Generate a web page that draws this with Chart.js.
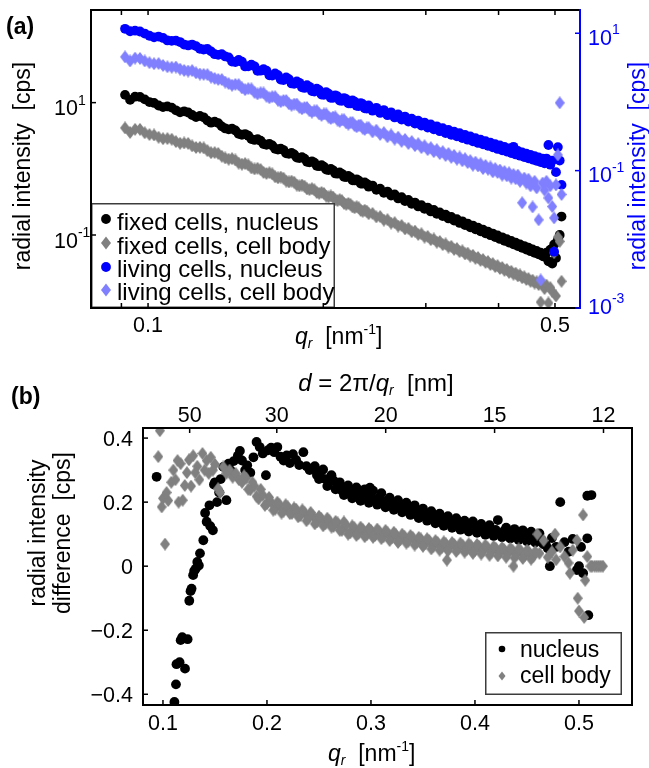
<!DOCTYPE html>
<html>
<head>
<meta charset="utf-8">
<script src="https://cdn.jsdelivr.net/npm/chart.js@4.4.1/dist/chart.umd.min.js"></script>
<style>
html,body{margin:0;padding:0;background:#fff;width:649px;height:768px;overflow:hidden;}
canvas{position:absolute;left:0;display:block;}
</style>
</head>
<body>
<canvas id="chartA" width="649" height="350" style="top:0px;width:649px;height:350px"></canvas>
<canvas id="chartB" width="649" height="418" style="top:350px;width:649px;height:418px"></canvas>
<script>
// ---------------- data: panel (a) ----------------
const qA = [0.0913,0.09315,0.0950,0.09685,0.0987,0.10055,0.1024,0.10425,0.1061,0.10795,
0.1098,0.11165,0.1135,0.11535,0.1172,0.11905,0.1209,0.12275,0.1246,0.12645,
0.1283,0.13015,0.1320,0.13385,0.1357,
0.1394,0.1431,0.1468,0.1505,0.1542,0.1579,0.1616,
0.1653,0.1690,0.1727,0.1764,0.1801,0.1838,0.1875,0.1912,0.1949,0.1986,
0.2023,0.2060,0.2097,0.2134,0.2171,0.2208,0.2245,0.2282,0.2319,0.2356,
0.2393,0.2430,0.2467,0.2504,0.2541,0.2578,0.2615,0.2652,0.2689,0.2726,
0.2763,0.2800,0.2837,0.2874,0.2911,0.2948,0.2985,0.3022,0.3059,0.3096,
0.3133,0.3170,0.3207,0.3244,0.3281,0.3318,0.3355,0.3392,0.3429,0.3466,
0.3503,0.3540,0.3577,0.3614,0.3651,0.3688,0.3725,0.3762,0.3799,0.3836,
0.3873,0.3910,0.3947,0.3984,0.4021,0.4058,0.4095,0.4132,0.4169,0.4206,
0.4243,0.4280,0.4317,0.4354,0.4391,0.4428,0.4465,0.4502,0.4539,0.4576,
0.4613,0.4650,0.4687,0.4724,0.4761,0.4798,0.4835,0.4872,0.4909,0.4946,
0.4983,0.5020,0.5057,0.5094,0.5131,
0.13755,0.14125,0.14495,0.14865,0.15235,0.15605,0.15975,0.16345,0.16715,0.17085,
0.17455,0.17825,0.18195,0.18565,0.18935,0.19305,0.19675,0.20045,0.20415,0.20785,
0.21155,0.21525,0.21895,0.22265,0.22635,0.23005,0.23375,0.23745];

const fixedNucleus = [13.1,11.0,12.3,12.2,11.2,10.2,9.9,9.05,8.55,8.75,
8.40,7.65,7.15,7.40,7.10,6.50,6.05,6.30,6.00,5.35,
4.98,5.15,4.90,4.38,4.07,
4.04,3.37,3.35,2.81,2.81,2.37,2.38,
2.01,2.02,1.71,1.74,1.475,1.50,1.275,1.30,1.11,1.135,
0.972,0.995,0.852,0.880,0.755,0.780,0.672,0.695,0.600,0.622,
0.537,0.558,0.483,0.502,0.435,0.453,0.394,0.410,0.357,0.373,
0.325,0.339,0.296,0.309,0.270,0.283,0.248,0.260,0.227,0.239,
0.209,0.219,0.193,0.203,0.178,0.187,0.165,0.173,0.152,0.161,
0.141,0.149,0.131,0.139,0.122,0.129,0.114,0.120,0.106,0.1125,
0.0994,0.1052,0.0930,0.0985,0.0872,0.0924,0.0818,0.0867,0.0768,0.0815,
0.0722,0.0767,0.0680,0.0722,0.0641,0.0680,0.0604,0.0642,0.0570,0.0606,
0.0539,0.0574,0.0510,0.0542,0.0482,0.0470,0.0540,0.0400,0.0600,0.0370,
0.0720,0.0450,0.0850,0.1000,0.1900,
3.95,3.80,3.27,3.16,2.73,2.66,2.31,2.25,1.96,1.92,
1.68,1.65,1.45,1.425,1.255,1.24,1.095,1.08,0.96,0.95,
0.845,0.84,0.75,0.745,0.667,0.665,0.596,0.594];

const fixedCellBody = [4.15,3.55,3.95,3.95,3.50,3.30,3.25,3.00,2.85,2.86,
2.80,2.58,2.43,2.46,2.42,2.22,2.10,2.11,2.07,1.88,
1.75,1.76,1.71,1.55,1.46,
1.425,1.22,1.20,1.03,1.02,0.88,0.873,
0.756,0.752,0.653,0.652,0.569,0.569,0.497,0.500,0.438,0.440,
0.387,0.389,0.340,0.342,0.300,0.301,0.265,0.267,0.235,0.2375,
0.2095,0.212,0.1875,0.190,0.168,0.1705,0.1512,0.1538,0.1366,0.139,
0.1236,0.1260,0.1122,0.1145,0.1020,0.1043,0.0930,0.0952,0.0851,0.0871,
0.0779,0.0799,0.0715,0.0734,0.0658,0.0676,0.0606,0.0624,0.0560,0.0576,
0.0517,0.0533,0.0479,0.0494,0.0444,0.0458,0.0413,0.0426,0.0385,0.0397,
0.0358,0.0370,0.0333,0.0345,0.0312,0.0323,0.0292,0.0302,0.0273,0.0283,
0.0256,0.0266,0.0241,0.0249,0.0226,0.0234,0.0213,0.0220,0.0200,0.0208,
0.0188,0.0196,0.0178,0.0097,0.0180,0.0155,0.0175,0.0094,0.0160,0.0140,
0.0540,0.0120,0.0930,0.0800,0.0200,
1.40,1.36,1.175,1.145,0.995,0.975,0.85,0.838,0.73,0.722,
0.633,0.627,0.552,0.548,0.484,0.482,0.426,0.425,0.376,0.375,
0.331,0.330,0.2915,0.291,0.258,0.258,0.229,0.2298];

const livingNucleus = [11.6,10.7,10.9,10.6,9.9,9.2,8.70,8.95,8.55,7.85,
7.75,7.80,7.45,6.85,6.65,6.85,6.50,5.95,5.80,5.90,
5.45,4.95,4.85,4.95,4.60,
3.88,4.09,3.29,3.49,2.83,3.00,2.44,
2.60,2.12,2.27,1.86,1.99,1.63,1.755,1.44,1.555,1.28,
1.385,1.145,1.25,1.045,1.14,0.957,1.05,0.878,0.964,0.809,
0.889,0.746,0.822,0.691,0.761,0.641,0.706,0.595,0.657,0.554,
0.613,0.517,0.571,0.483,0.535,0.452,0.501,0.424,0.470,0.399,
0.442,0.375,0.416,0.353,0.392,0.333,0.370,0.315,0.350,0.297,
0.331,0.282,0.314,0.267,0.297,0.253,0.282,0.241,0.268,0.229,
0.255,0.218,0.243,0.207,0.232,0.198,0.221,0.189,0.211,0.180,
0.222,0.172,0.193,0.165,0.184,0.158,0.177,0.151,0.169,0.145,
0.162,0.139,0.156,0.133,0.150,0.128,0.150,0.236,0.122,0.140,
0.0066,0.095,0.220,0.140,0.062,
4.45,3.80,3.85,3.30,3.30,2.85,2.85,2.42,2.45,2.08,
2.15,1.83,1.90,1.60,1.66,1.42,1.48,1.27,1.32,1.15,
1.20,1.04,1.10,0.95,1.01,0.87,0.925,0.80];

const livingCellBody = [4.52,3.95,4.35,4.30,3.95,3.72,3.60,3.62,3.40,3.25,
3.20,3.22,3.00,2.88,2.82,2.86,2.65,2.55,2.52,2.50,
2.30,2.20,2.13,2.12,1.95,
1.75,1.79,1.51,1.55,1.31,1.35,1.15,
1.19,1.01,1.05,0.895,0.932,0.795,0.830,0.711,0.745,0.638,
0.670,0.575,0.606,0.522,0.551,0.476,0.503,0.435,0.460,0.398,
0.422,0.366,0.388,0.337,0.358,0.311,0.331,0.288,0.307,0.267,
0.285,0.248,0.265,0.231,0.247,0.216,0.230,0.202,0.216,0.189,
0.202,0.177,0.189,0.166,0.178,0.156,0.167,0.147,0.158,0.139,
0.149,0.131,0.140,0.120,0.133,0.117,0.126,0.107,0.119,0.105,
0.113,0.096,0.107,0.094,0.102,0.086,0.097,0.084,0.093,0.078,
0.088,0.076,0.086,0.070,0.034,0.078,0.066,0.075,0.060,0.0296,
0.070,0.056,0.0192,0.00256,0.066,0.052,0.070,0.040,0.060,0.030,
0.0205,0.062,0.169,0.97,0.045,
1.85,1.80,1.60,1.56,1.38,1.36,1.21,1.19,1.06,1.05,
0.94,0.93,0.835,0.83,0.745,0.742,0.668,0.668,0.603,0.602,
0.545,0.547,0.496,0.500,0.453,0.457,0.414,0.419];

// ---------------- data: panel (b) ----------------
const qNucleusDiff = [0.0939,0.1110,0.1125,0.1130,0.1160,0.1170,0.1185,0.1212,0.1237,0.1253,
0.1265,0.1275,0.1290,0.1300,0.1315,0.1330,0.1345,0.1356,0.1388,0.1405,
0.1420,0.1447,0.1455,0.1480,0.1490,0.1500,0.1520,0.1540,0.1555,0.1580,0.1610,
0.1630,0.1650,0.1680,0.1720,0.1740,0.1760,0.1790,0.1810,0.1840,0.1870,
0.1900,0.1930,0.1960,0.1990,0.2010,0.2040,0.2070,0.2100,0.2130,0.2160,
0.2190,0.2220,0.2250,0.2280,0.2310,0.2350,0.2380,0.2410,0.2440,0.2480,
0.2520,0.2560,0.2600,0.2640,0.2680,0.2720,0.2760,0.2800,0.2840,0.2880,
0.2920,0.2960,0.2990,0.3000,0.3040,0.3080,0.3120,0.3160,0.3200,0.3240,
0.3280,0.3320,0.3360,0.3400,0.3420,0.3440,0.3480,0.3520,0.3560,0.3600,
0.3640,0.3680,0.3720,0.3760,0.3800,0.3840,0.3880,0.3920,0.3960,0.3980,
0.4000,0.4040,0.4080,0.4120,0.4160,0.4200,0.4220,0.4240,0.4280,0.4320,
0.4360,0.4400,0.4440,0.4480,0.4520,0.4560,0.4600,0.4640,0.4680,0.4700,
0.4720,0.4740,0.4780,0.4820,0.4860,0.4900,0.4940,0.4980,0.5000,0.5020,
0.5040,0.5080,0.5080,0.5090,0.5120,
0.246,0.250,0.254,0.258,0.262,0.266,0.270,0.274,0.278,0.282,
0.286,0.290,0.294,0.298,0.302,0.306,0.310,0.314,0.318,0.322,
0.326,0.330,0.334,0.338,0.346,0.350,0.354,0.358,0.362,0.366,
0.370,0.374,0.378,0.382,0.386,0.390,0.394,0.402,0.406,0.410,
0.414,0.418,0.426,0.430,0.434,0.438,0.442,0.446,0.450,0.454,
0.458,0.462,0.466];
const nucleusDiff = [0.279,-0.424,-0.369,-0.306,-0.300,-0.231,-0.222,-0.320,-0.228,-0.108,
-0.078,-0.070,-0.028,-0.015,-0.008,0.013,0.002,0.040,0.081,0.166,
0.139,0.190,0.125,0.112,0.255,0.262,0.200,0.230,0.272,0.310,0.206,
0.320,0.300,0.328,0.345,0.360,0.330,0.300,0.315,0.292,0.340,
0.388,0.372,0.352,0.284,0.362,0.370,0.356,0.372,0.342,0.330,
0.346,0.322,0.350,0.332,0.316,0.356,0.312,0.300,0.305,0.285,
0.296,0.272,0.262,0.268,0.246,0.236,0.246,0.225,0.232,0.214,
0.226,0.212,0.245,0.222,0.205,0.214,0.198,0.205,0.188,0.196,
0.182,0.190,0.172,0.180,0.190,0.163,0.170,0.155,0.162,0.147,
0.155,0.140,0.150,0.132,0.142,0.127,0.135,0.120,0.128,0.140,
0.115,0.124,0.108,0.118,0.104,0.113,0.144,0.100,0.110,0.097,
0.106,0.093,0.103,0.090,0.100,0.086,0.094,0.082,0.070,0.056,
0.000,0.088,0.060,0.200,0.075,0.045,0.085,-0.012,0.000,0.060,
-0.022,0.087,0.220,-0.153,0.222,
0.312,0.272,0.302,0.250,0.284,0.240,0.262,0.222,0.252,0.212,
0.246,0.204,0.240,0.198,0.236,0.192,0.228,0.184,0.214,0.176,
0.206,0.168,0.198,0.160,0.150,0.180,0.142,0.172,0.134,0.164,
0.126,0.156,0.120,0.150,0.114,0.142,0.108,0.104,0.132,0.098,
0.128,0.094,0.090,0.120,0.086,0.116,0.082,0.112,0.078,0.108,
0.074,0.102,0.068];

const qCellBodyDiff = [0.0955,0.0970,0.0988,0.1000,0.1020,0.1035,0.1050,0.1080,0.1100,0.1120,
0.1140,0.1150,0.1170,0.1190,0.1210,0.1230,0.1250,0.1270,0.1290,0.1310,
0.1330,0.1350,0.1380,0.1400,0.1420,0.1440,0.1460,0.1480,0.1500,0.1530,
0.1550,0.1580,0.1610,0.1640,0.1670,0.1700,0.1730,
0.176,0.180,0.184,0.188,0.192,0.196,0.200,0.204,0.208,0.212,
0.216,0.220,0.224,0.228,0.232,0.236,0.240,0.244,0.248,0.252,
0.256,0.260,0.264,0.268,0.272,0.276,0.280,0.284,0.288,0.292,
0.296,0.300,0.304,0.308,0.312,0.316,0.320,0.324,0.328,0.332,
0.336,0.340,0.344,0.348,0.352,0.356,0.360,0.364,0.368,0.372,
0.373,0.376,0.380,0.384,0.388,0.392,0.396,0.400,0.404,0.408,
0.412,0.416,0.420,0.424,0.428,0.432,0.436,0.437,0.440,0.444,
0.448,0.452,0.456,0.460,0.462,0.466,0.470,0.474,0.477,0.478,
0.482,0.486,0.490,0.4913,0.494,0.498,0.4988,0.500,0.504,0.505,
0.506,0.508,0.511,0.5125,0.515,0.517,0.519,0.521,0.523,
0.178,0.182,0.186,0.190,0.194,0.198,0.202,0.206,0.210,0.214,
0.218,0.222,0.226,0.230,0.234,0.238,0.242,0.246,0.250,0.254,
0.258,0.262,0.266,0.270,0.274,0.278,0.282,0.286,0.290,0.294,
0.298,0.302,0.306,0.310,0.314,0.318,0.322,0.326,0.330,0.334,
0.338,0.342,0.346,0.350,0.354,0.358,0.362,0.366,0.370,0.374,
0.378,0.382,0.386,0.390,0.394,0.398,0.402,0.406,0.410,0.414,
0.418,0.422,0.426,0.430,0.434,0.438,0.442,0.446,0.450,0.454,0.458];
const cellBodyDiff = [0.342,0.423,0.185,0.212,0.069,0.230,0.205,0.262,0.300,0.270,
0.330,0.200,0.320,0.206,0.252,0.292,0.332,0.250,0.345,0.292,
0.312,0.270,0.352,0.300,0.330,0.290,0.340,0.300,0.318,0.242,
0.230,0.310,0.290,0.300,0.278,0.290,0.270,
0.262,0.275,0.238,0.250,0.210,0.222,0.195,0.200,0.178,0.192,
0.172,0.185,0.165,0.178,0.158,0.168,0.150,0.158,0.138,0.150,
0.132,0.142,0.124,0.135,0.112,0.128,0.104,0.120,0.102,0.115,
0.098,0.112,0.096,0.108,0.092,0.104,0.088,0.098,0.082,0.094,
0.078,0.090,0.074,0.085,0.070,0.080,0.062,0.074,0.058,0.070,
0.019,0.060,0.068,0.055,0.066,0.052,0.064,0.050,0.062,0.048,
0.058,0.044,0.056,0.042,0.052,0.040,0.050,0.000,0.036,0.048,
0.034,0.044,0.030,0.100,0.040,0.080,0.028,0.045,0.100,0.020,
0.060,0.030,0.010,-0.022,0.050,0.081,-0.100,-0.140,0.160,-0.160,
-0.044,0.030,0,0,0,0,0,0,0,
0.282,0.240,0.262,0.218,0.240,0.190,0.215,0.175,0.200,0.166,
0.192,0.164,0.182,0.154,0.176,0.142,0.168,0.132,0.156,0.126,
0.150,0.122,0.140,0.112,0.138,0.100,0.126,0.096,0.122,0.092,
0.118,0.090,0.116,0.086,0.112,0.080,0.106,0.074,0.100,0.072,
0.096,0.066,0.090,0.062,0.086,0.054,0.080,0.050,0.076,0.048,
0.074,0.046,0.072,0.044,0.070,0.040,0.068,0.038,0.066,0.034,
0.062,0.032,0.058,0.028,0.056,0.026,0.054,0.024,0.050,0.022,0.046];

// ---------------- ticks & labels ----------------
const qTicksA = [0.09,0.1,0.2,0.3,0.4,0.5];
const qLabelValuesA = [0.1,0.5];
const qLabelsA = ['0.1','0.5'];
const leftTicksA = [10,0.1];
const leftExpA = ['1','-1'];
const rightTicksA = [10,0.1,0.001];
const rightExpA = ['1','-1','-3'];
const qTicksB = [0.1,0.2,0.3,0.4,0.5];
const qLabelsB = ['0.1','0.2','0.3','0.4','0.5'];
const diffTicksB = [0.4,0.2,0,-0.2,-0.4];
const diffLabelsB = ['0.4','0.2','0','\u22120.2','\u22120.4'];
const dTicksB = [50,30,20,15,12];
const dLabelsB = ['50','30','20','15','12'];
const legendA = ['fixed cells, nucleus','fixed cells, cell body','living cells, nucleus','living cells, cell body'];
const legendB = ['nucleus','cell body'];

// ---------------- styling ----------------
const FF = '"Liberation Sans", Arial, Helvetica, sans-serif';
const TICK_PX = 21.5, LABEL_PX = 23, LEGA_PX = 24, SMALL_PX = 14;
const BLACK = '#000000', GRAY = '#808080', BLUE = '#0000ff', LBLUE = '#8080ff';
const CIRCLE_R = 4.9, DIA_W = 10, DIA_H = 13;

function diamondImage(color, w, h){
  const c = document.createElement('canvas'); c.width = w; c.height = h;
  const g = c.getContext('2d'); g.fillStyle = color; g.beginPath();
  g.moveTo(w / 2, 0); g.lineTo(w, h / 2); g.lineTo(w / 2, h); g.lineTo(0, h / 2); g.closePath(); g.fill();
  return c;
}
function setFont(ctx, size, style){ ctx.font = (style || 'normal') + ' ' + size + 'px ' + FF; }
function richWidth(ctx, segs){ let w = 0; segs.forEach(s => { setFont(ctx, s.size, s.style); w += ctx.measureText(s.t).width; }); return w; }
function drawRich(ctx, segs, x, y, align){
  const w = richWidth(ctx, segs);
  let cx = align === 'center' ? x - w / 2 : (align === 'right' ? x - w : x);
  ctx.textAlign = 'left'; ctx.textBaseline = 'alphabetic';
  segs.forEach(s => { setFont(ctx, s.size, s.style); ctx.fillText(s.t, cx, y + (s.dy || 0)); cx += ctx.measureText(s.t).width; });
}
function text(ctx, t, x, y, size, align, style){
  setFont(ctx, size, style); ctx.textAlign = align; ctx.textBaseline = 'alphabetic'; ctx.fillText(t, x, y);
}
function rotText(ctx, t, x, y, size){
  ctx.save(); ctx.translate(x, y); ctx.rotate(-Math.PI / 2);
  text(ctx, t, 0, 0, size, 'center'); ctx.restore();
}
function marker(ctx, style, x, y, r, color, w, h){
  ctx.fillStyle = color; ctx.beginPath();
  if (style === 'circle') ctx.arc(x, y, r, 0, Math.PI * 2);
  else { ctx.moveTo(x - w / 2, y); ctx.lineTo(x, y - h / 2); ctx.lineTo(x + w / 2, y); ctx.lineTo(x, y + h / 2); ctx.closePath(); }
  ctx.fill();
}
function qrSegs(){ return [
  {t:'q', size:LABEL_PX, style:'italic'},
  {t:'r', size:SMALL_PX, style:'italic', dy:4},
  {t:'  [nm', size:LABEL_PX},
  {t:'-1', size:SMALL_PX, dy:-10},
  {t:']', size:LABEL_PX}
]; }
const pts = (xs, ys) => xs.map((x, i) => ({x: x, y: ys[i]}));
function ds(label, data, yAxisID, style, color, order){
  const ps = style === 'diamond' ? diamondImage(color, DIA_W, DIA_H) : 'circle';
  return {label, data, yAxisID, xAxisID:'x', pointStyle:ps, pointRadius:CIRCLE_R, pointHoverRadius:CIRCLE_R,
    pointBackgroundColor:color, pointBorderColor:color, pointBorderWidth:0, backgroundColor:color,
    borderColor:color, showLine:false, order};
}

// ---------------- panel (a) ----------------
const decorA = {
  id:'decorA',
  afterDraw(chart){
    const ctx = chart.ctx, a = chart.chartArea, xs = chart.scales.x, yl = chart.scales.yL, yr = chart.scales.yR;
    ctx.save();
    const ly = 203, lw = 244, lh = a.bottom - ly;
    ctx.fillStyle = '#ffffff'; ctx.fillRect(a.left, ly, lw, lh);
    ctx.strokeStyle = '#3c3c3c'; ctx.lineWidth = 1.5; ctx.strokeRect(a.left + 0.75, ly + 0.75, lw - 1.5, lh - 1.5);
    const mk = [['circle',BLACK],['diamond',GRAY],['circle',BLUE],['diamond',LBLUE]];
    const my = [219,243,267,290], tb = [230,253.5,277,300];
    legendA.forEach((t, i) => {
      marker(ctx, mk[i][0], 106, my[i], CIRCLE_R, mk[i][1], DIA_W, DIA_H);
      ctx.fillStyle = BLACK; text(ctx, t, 117, tb[i], LEGA_PX, 'left');
    });
    ctx.lineWidth = 2; ctx.strokeStyle = BLACK;
    ctx.beginPath(); ctx.moveTo(a.right, a.top); ctx.lineTo(a.left, a.top); ctx.lineTo(a.left, a.bottom); ctx.lineTo(a.right, a.bottom); ctx.stroke();
    ctx.strokeStyle = BLUE; ctx.beginPath(); ctx.moveTo(a.right, a.top - 1); ctx.lineTo(a.right, a.bottom + 1); ctx.stroke();
    ctx.lineWidth = 1.5; ctx.strokeStyle = BLACK;
    qTicksA.forEach(v => { const x = xs.getPixelForValue(v); ctx.beginPath(); ctx.moveTo(x, a.bottom); ctx.lineTo(x, a.bottom - 5); ctx.moveTo(x, a.top); ctx.lineTo(x, a.top + 5); ctx.stroke(); });
    leftTicksA.forEach(v => { const y = yl.getPixelForValue(v); ctx.beginPath(); ctx.moveTo(a.left, y); ctx.lineTo(a.left + 5, y); ctx.stroke(); });
    ctx.strokeStyle = BLUE;
    rightTicksA.forEach(v => { const y = yr.getPixelForValue(v); ctx.beginPath(); ctx.moveTo(a.right, y); ctx.lineTo(a.right - 5, y); ctx.stroke(); });
    ctx.fillStyle = BLACK;
    qLabelValuesA.forEach((v, i) => text(ctx, qLabelsA[i], xs.getPixelForValue(v), 332, TICK_PX, 'center'));
    leftTicksA.forEach((v, i) => { const y = yl.getPixelForValue(v);
      drawRich(ctx, [{t:'10', size:TICK_PX}, {t:leftExpA[i], size:SMALL_PX, dy:-10.5}], 54, y + 12.5, 'left'); });
    ctx.fillStyle = BLUE;
    rightTicksA.forEach((v, i) => { const y = yr.getPixelForValue(v);
      drawRich(ctx, [{t:'10', size:TICK_PX}, {t:rightExpA[i], size:SMALL_PX, dy:-10.5}], 588, Math.min(y + 11.5, 313.5), 'left'); });
    ctx.fillStyle = BLACK;
    drawRich(ctx, qrSegs(), 295, 344, 'left');
    rotText(ctx, 'radial intensity  [cps]', 30, 166, LABEL_PX);
    ctx.fillStyle = BLUE;
    rotText(ctx, 'radial intensity  [cps]', 645, 166, LABEL_PX);
    ctx.fillStyle = BLACK;
    text(ctx, '(a)', 6, 34, LABEL_PX, 'left', 'bold');
    ctx.restore();
  }
};

new Chart(document.getElementById('chartA'), {
  type:'scatter',
  data:{datasets:[
    ds(legendA[0], pts(qA, fixedNucleus), 'yL', 'circle', BLACK, 3),
    ds(legendA[1], pts(qA, fixedCellBody), 'yL', 'diamond', GRAY, 2),
    ds(legendA[2], pts(qA, livingNucleus), 'yR', 'circle', BLUE, 1),
    ds(legendA[3], pts(qA, livingCellBody), 'yR', 'diamond', LBLUE, 0)
  ]},
  options:{
    responsive:false, animation:false, devicePixelRatio:1, events:[],
    layout:{padding:{left:91, right:69, top:10, bottom:42}},
    plugins:{legend:{display:false}, tooltip:{enabled:false}},
    scales:{
      x:{type:'logarithmic', min:0.0798, max:0.552, display:false, bounds:'data'},
      yL:{type:'logarithmic', position:'left', min:0.00789, max:251, display:false, bounds:'data'},
      yR:{type:'logarithmic', position:'right', min:0.001, max:21.8, display:false, bounds:'data'}
    }
  },
  plugins:[decorA]
});

// ---------------- panel (b) ----------------
const decorB = {
  id:'decorB',
  afterDraw(chart){
    const ctx = chart.ctx, a = chart.chartArea, xs = chart.scales.x, ys = chart.scales.y;
    ctx.save();
    const lx = 485, ly = 282, lw = 137, lh = 63;
    ctx.fillStyle = '#ffffff'; ctx.fillRect(lx, ly, lw, lh);
    ctx.strokeStyle = '#3c3c3c'; ctx.lineWidth = 1.5; ctx.strokeRect(lx + 0.75, ly + 0.75, lw - 1.5, lh - 1.5);
    marker(ctx, 'circle', 502, 299, 3.3, BLACK);
    marker(ctx, 'diamond', 502, 326, 0, GRAY, 7, 9);
    ctx.fillStyle = BLACK;
    text(ctx, legendB[0], 520, 307, LABEL_PX, 'left');
    text(ctx, legendB[1], 520, 333, LABEL_PX, 'left');
    ctx.lineWidth = 2; ctx.strokeStyle = BLACK;
    ctx.strokeRect(a.left, a.top, a.right - a.left, a.bottom - a.top);
    ctx.lineWidth = 1.5;
    qTicksB.forEach(v => { const x = xs.getPixelForValue(v); ctx.beginPath(); ctx.moveTo(x, a.bottom); ctx.lineTo(x, a.bottom - 5); ctx.stroke(); });
    dTicksB.forEach(d => { const x = xs.getPixelForValue(2 * Math.PI / d); ctx.beginPath(); ctx.moveTo(x, a.top); ctx.lineTo(x, a.top + 5); ctx.stroke(); });
    diffTicksB.forEach(v => { const y = ys.getPixelForValue(v); ctx.beginPath(); ctx.moveTo(a.left, y); ctx.lineTo(a.left + 5, y); ctx.stroke(); });
    ctx.fillStyle = BLACK;
    qTicksB.forEach((v, i) => text(ctx, qLabelsB[i], xs.getPixelForValue(v), 380, TICK_PX, 'center'));
    dTicksB.forEach((d, i) => text(ctx, dLabelsB[i], xs.getPixelForValue(2 * Math.PI / d), 72, TICK_PX, 'center'));
    diffTicksB.forEach((v, i) => text(ctx, diffLabelsB[i], 133, ys.getPixelForValue(v) + 7.5, TICK_PX, 'right'));
    drawRich(ctx, qrSegs(), 328, 411, 'left');
    drawRich(ctx, [
      {t:'d', size:24, style:'italic'},
      {t:' = 2\u03c0/', size:24},
      {t:'q', size:24, style:'italic'},
      {t:'r', size:SMALL_PX, style:'italic', dy:4},
      {t:'  [nm]', size:24}
    ], 376, 41, 'center');
    rotText(ctx, 'radial intensity', 45, 183, LABEL_PX);
    rotText(ctx, 'difference  [cps]', 70, 183, LABEL_PX);
    text(ctx, '(b)', 11, 54, LABEL_PX, 'left', 'bold');
    ctx.restore();
  }
};

new Chart(document.getElementById('chartB'), {
  type:'scatter',
  data:{datasets:[
    ds(legendB[0], pts(qNucleusDiff, nucleusDiff), 'y', 'circle', BLACK, 1),
    ds(legendB[1], pts(qCellBodyDiff, cellBodyDiff), 'y', 'diamond', GRAY, 0)
  ]},
  options:{
    responsive:false, animation:false, devicePixelRatio:1, events:[],
    layout:{padding:{left:143, right:17, top:78, bottom:63}},
    plugins:{legend:{display:false}, tooltip:{enabled:false}},
    scales:{
      x:{type:'linear', min:0.0808, max:0.5510, display:false, bounds:'data'},
      y:{type:'linear', min:-0.4335, max:0.4315, display:false, bounds:'data'}
    }
  },
  plugins:[decorB]
});
</script>
</body>
</html>
